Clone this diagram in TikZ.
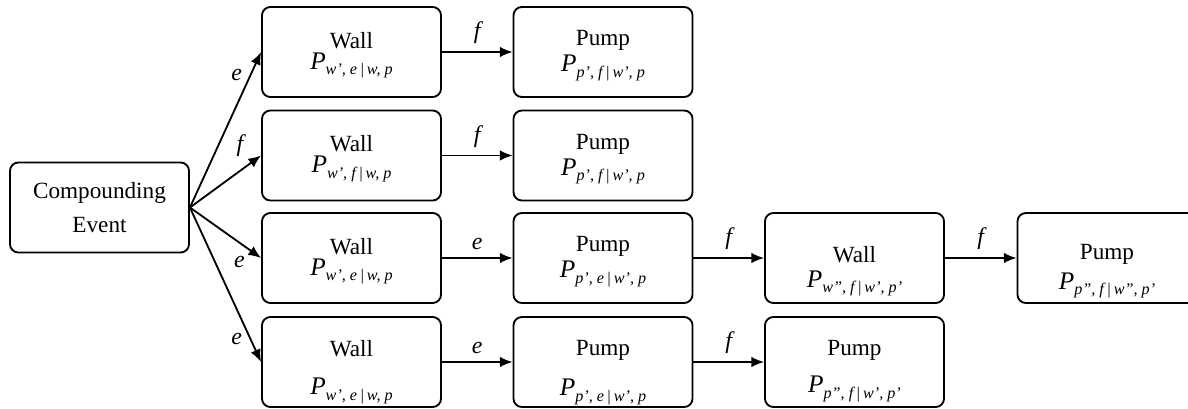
\documentclass[tikz,border=0pt]{standalone}
\usepackage{fontspec}
\setmainfont{Liberation Serif}
\usetikzlibrary{arrows.meta}

\newcommand{\prob}[1]{{\fontsize{18}{18}\selectfont\itshape P}\raisebox{-0.5ex}{\fontsize{11.5}{11.5}\selectfont\itshape #1}}
\newcommand{\lift}[1]{\rule{0pt}{#1}}

\tikzset{
    stage/.style={draw, line width=1.3pt, rounded corners=6pt, minimum width=4.475cm, minimum height=2.25cm,
        inner ysep=1pt, align=center, font=\fontsize{16.5}{13}\selectfont},
    link/.style={-{Latex[length=9pt, width=7.5pt]}, line width=1.3pt},
    lbl/.style={font=\fontsize{17}{17}\selectfont\itshape}
}

\begin{document}
\begin{tikzpicture}[x=0.025cm, y=-0.025cm]
    \useasboundingbox (0,0) rectangle (1188,408);

    % Ausgangsereignis
    \node[stage] (event) at (99.5,207.5) {Compounding\\[9pt]Event};

    % erste Spalte
    \node[stage] (w1) at (351.5,52) {\lift{16pt}Wall\\[2pt]\prob{w’, e\,|\,w, p}};
    \node[stage] (w2) at (351.5,155.5) {\lift{16pt}Wall\\[2pt]\prob{w’, f\,|\,w, p}};
    \node[stage] (w3) at (351.5,258) {\lift{16pt}Wall\\[2pt]\prob{w’, e\,|\,w, p}};
    \node[stage] (w4) at (351.5,362) {\lift{26pt}Wall\\[14pt]\prob{w’, e\,|\,w, p}};

    % zweite Spalte
    \node[stage] (p1) at (603,52) {\lift{16pt}Pump\\[2pt]\prob{p’, f\,|\,w’, p}};
    \node[stage] (p2) at (603,155.5) {\lift{16pt}Pump\\[2pt]\prob{p’, f\,|\,w’, p}};
    \node[stage] (p3) at (603,258) {\lift{16pt}Pump\\[2pt]\prob{p’, e\,|\,w’, p}};
    \node[stage] (p4) at (603,362) {\lift{26pt}Pump\\[12pt]\prob{p’, e\,|\,w’, p}};

    % dritte und vierte Spalte
    \node[stage] (w5) at (854.5,258) {\lift{30pt}Wall\\[5pt]\prob{w”, f\,|\,w’, p’}};
    \node[stage] (p6) at (854.5,362) {\lift{24pt}Pump\\[10pt]\prob{p”, f\,|\,w’, p’}};
    \node[stage] (p5) at (1107,258) {\lift{30pt}Pump\\[5pt]\prob{p”, f\,|\,w”, p’}};

    % Verzweigung
    \draw[link] (event.east) -- node[lbl, pos=0.85, left=2pt] {e} (w1.west);
    \draw[link] (event.east) -- node[lbl, pos=0.85, above left=1pt] {f} (w2.west);
    \draw[link] (event.east) -- node[lbl, pos=0.85, below left=0pt] {e} (w3.west);
    \draw[link] (event.east) -- node[lbl, pos=0.85, left=2pt] {e} (w4.west);

    % Folgeereignisse
    \draw[link] (w1) -- node[lbl, above=2pt] {f} (p1);
    \draw[link] (w2) -- node[lbl, above=2pt] {f} (p2);
    \draw[link] (w3) -- node[lbl, above=2pt] {e} (p3);
    \draw[link] (w4) -- node[lbl, above=2pt] {e} (p4);
    \draw[link] (p3) -- node[lbl, above=2pt] {f} (w5);
    \draw[link] (w5) -- node[lbl, above=2pt] {f} (p5);
    \draw[link] (p4) -- node[lbl, above=2pt] {f} (p6);
\end{tikzpicture}
\end{document}
